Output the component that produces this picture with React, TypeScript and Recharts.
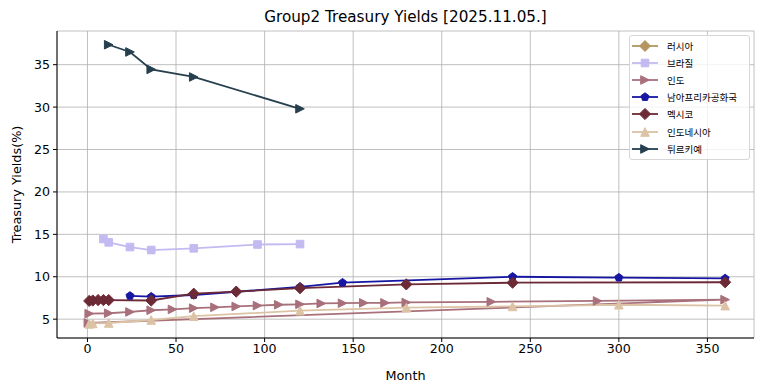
import { LineChart, Line, XAxis, YAxis, CartesianGrid, Legend } from "recharts";

// tenor (months) and yield (%) per country
const russiaMonths: number[] = [];
const russiaYields: number[] = [];
const brazilMonths = [9, 12, 24, 36, 60, 96, 120];
const brazilYields = [14.45, 14.05, 13.5, 13.15, 13.35, 13.8, 13.85];
const indiaMonths = [1, 12, 24, 36, 48, 60, 72, 84, 96, 108, 120, 132, 144, 156, 168, 180, 228, 288, 360, 0.5];
const indiaYields = [5.65, 5.7, 5.85, 6.05, 6.15, 6.3, 6.4, 6.5, 6.6, 6.7, 6.75, 6.85, 6.88, 6.92, 6.92, 6.97, 7.05, 7.15, 7.3, 4.55];
const saMonths = [24, 36, 60, 120, 144, 240, 300, 360];
const saYields = [7.75, 7.65, 7.85, 8.8, 9.3, 10.0, 9.9, 9.8];
const mexicoMonths = [1, 3, 6, 9, 12, 36, 60, 84, 120, 180, 240, 360];
const mexicoYields = [7.15, 7.2, 7.25, 7.25, 7.25, 7.2, 8.0, 8.25, 8.65, 9.1, 9.3, 9.35];
const indonesiaMonths = [1, 3, 12, 36, 60, 120, 180, 240, 300, 360];
const indonesiaYields = [4.45, 4.5, 4.55, 4.9, 5.35, 6.0, 6.35, 6.5, 6.7, 6.6];
const turkeyMonths = [12, 24, 36, 60, 120];
const turkeyYields = [37.35, 36.5, 34.45, 33.55, 29.8];

const xTicks = [0, 50, 100, 150, 200, 250, 300, 350];
const yTicks = [5, 10, 15, 20, 25, 30, 35];

const FONT = "'DejaVu Sans', sans-serif";
const FONT_KR = "'DejaVu Sans', 'Noto Sans CJK KR', sans-serif";

type Shape = "diamond" | "square" | "triRight" | "triUp" | "pentagon";

const zip = (ms: number[], ys: number[]) => ms.map((m, i) => ({ month: m, yld: ys[i] }));

const series = [
  { name: "러시아", color: "#b4975e", shape: "diamond" as Shape, r: 5.5, data: zip(russiaMonths, russiaYields) },
  { name: "브라질", color: "#c3baf2", shape: "square" as Shape, r: 3.8, data: zip(brazilMonths, brazilYields) },
  { name: "인도", color: "#a8707a", shape: "triRight" as Shape, r: 4.3, data: zip(indiaMonths, indiaYields) },
  { name: "남아프리카공화국", color: "#1616a2", shape: "pentagon" as Shape, r: 4.2, data: zip(saMonths, saYields) },
  { name: "멕시코", color: "#6c2a36", shape: "diamond" as Shape, r: 5.6, data: zip(mexicoMonths, mexicoYields) },
  { name: "인도네시아", color: "#dcc3a5", shape: "triUp" as Shape, r: 4.3, data: zip(indonesiaMonths, indonesiaYields) },
  { name: "튀르키예", color: "#263f4e", shape: "triRight" as Shape, r: 4.3, data: zip(turkeyMonths, turkeyYields) },
];

function markerPath(shape: Shape, cx: number, cy: number, r: number) {
  switch (shape) {
    case "diamond":
      return `M${cx},${cy - r}L${cx + r},${cy}L${cx},${cy + r}L${cx - r},${cy}Z`;
    case "square":
      return `M${cx - r},${cy - r}h${2 * r}v${2 * r}h${-2 * r}Z`;
    case "triRight":
      return `M${cx + r},${cy}L${cx - r},${cy - r}L${cx - r},${cy + r}Z`;
    case "triUp":
      return `M${cx},${cy - r}L${cx + r},${cy + r}L${cx - r},${cy + r}Z`;
    default: {
      const pts = [0, 1, 2, 3, 4].map((k) => {
        const a = ((-90 + k * 72) * Math.PI) / 180;
        return `${cx + r * Math.cos(a)},${cy + r * Math.sin(a)}`;
      });
      return `M${pts.join("L")}Z`;
    }
  }
}

const makeDot = (s: (typeof series)[number]) => (props: any) => {
  const { cx, cy, index } = props;
  if (cx == null || cy == null) return <g key={`${s.name}-${index}`} />;
  return (
    <path
      key={`${s.name}-${index}`}
      d={markerPath(s.shape, cx, cy, s.r)}
      fill={s.color}
      stroke={s.color}
      strokeWidth={1}
    />
  );
};

const renderLegend = () => (
  <div
    style={{
      border: "1px solid #d6d6d6",
      borderRadius: 3,
      background: "rgba(255,255,255,0.8)",
      padding: "1px 0 2px 2px",
      boxSizing: "border-box",
      width: 121,
      fontFamily: FONT_KR,
      fontSize: 9.5,
      color: "#000",
    }}
  >
    {series.map((s) => (
      <div key={s.name} style={{ display: "flex", alignItems: "center", height: 17.2 }}>
        <svg width={27} height={14} style={{ flex: "none" }}>
          <line x1={0} y1={7} x2={26} y2={7} stroke={s.color} strokeWidth={1.8} />
          <path d={markerPath(s.shape, 13, 7, s.r)} fill={s.color} stroke={s.color} strokeWidth={1} />
        </svg>
        <span style={{ marginLeft: 8, whiteSpace: "nowrap" }}>{s.name}</span>
      </div>
    ))}
  </div>
);

export default function App() {
  const xDomain = [-17.2, 376.3];
  const yDomain = [2.78, 38.97];
  const tickStyle = { fontFamily: FONT, fontSize: 12.6, fill: "#000" };
  return (
    <div style={{ position: "absolute", left: 0, top: 0, width: 764, height: 391, background: "#fff" }}>
      <div
        style={{
          position: "absolute",
          top: 8,
          left: 57,
          width: 697,
          textAlign: "center",
          fontFamily: FONT,
          fontSize: 15.2,
          lineHeight: "18px",
          color: "#000",
        }}
      >
        Group2 Treasury Yields [2025.11.05.]
      </div>
      <LineChart width={764} height={391} margin={{ top: 31, right: 10, bottom: 0, left: 0 }}>
        <CartesianGrid stroke="#b0b0b0" strokeWidth={0.8} />
        <XAxis
          type="number"
          dataKey="month"
          domain={xDomain}
          ticks={xTicks}
          allowDataOverflow
          height={53}
          tickSize={4}
          tickMargin={2}
          stroke="#000"
          tick={tickStyle}
          label={{ value: "Month", position: "insideBottom", offset: 11, style: { fontFamily: FONT, fontSize: 12.8, fill: "#000" } }}
        />
        <XAxis xAxisId="top" orientation="top" type="number" domain={xDomain} allowDataOverflow height={0} tick={false} tickLine={false} stroke="#000" />
        <YAxis
          type="number"
          dataKey="yld"
          domain={yDomain}
          ticks={yTicks}
          allowDataOverflow
          width={57}
          tickSize={4}
          tickMargin={3}
          stroke="#000"
          tick={tickStyle}
          label={{
            value: "Treasury Yields(%)",
            angle: -90,
            position: "insideLeft",
            offset: 16,
            style: { textAnchor: "middle", fontFamily: FONT, fontSize: 12.8, fill: "#000" },
          }}
        />
        <YAxis yAxisId="right" orientation="right" type="number" domain={yDomain} allowDataOverflow width={0} tick={false} tickLine={false} stroke="#000" />
        {series.map((s) => (
          <Line
            key={s.name}
            data={s.data}
            dataKey="yld"
            name={s.name}
            type="linear"
            stroke={s.color}
            strokeWidth={1.8}
            dot={makeDot(s)}
            activeDot={false}
            isAnimationActive={false}
          />
        ))}
        <Legend
          layout="vertical"
          align="center"
          verticalAlign="middle"
          wrapperStyle={{ top: 35, left: 629, width: 121 }}
          content={renderLegend}
        />
      </LineChart>
    </div>
  );
}
